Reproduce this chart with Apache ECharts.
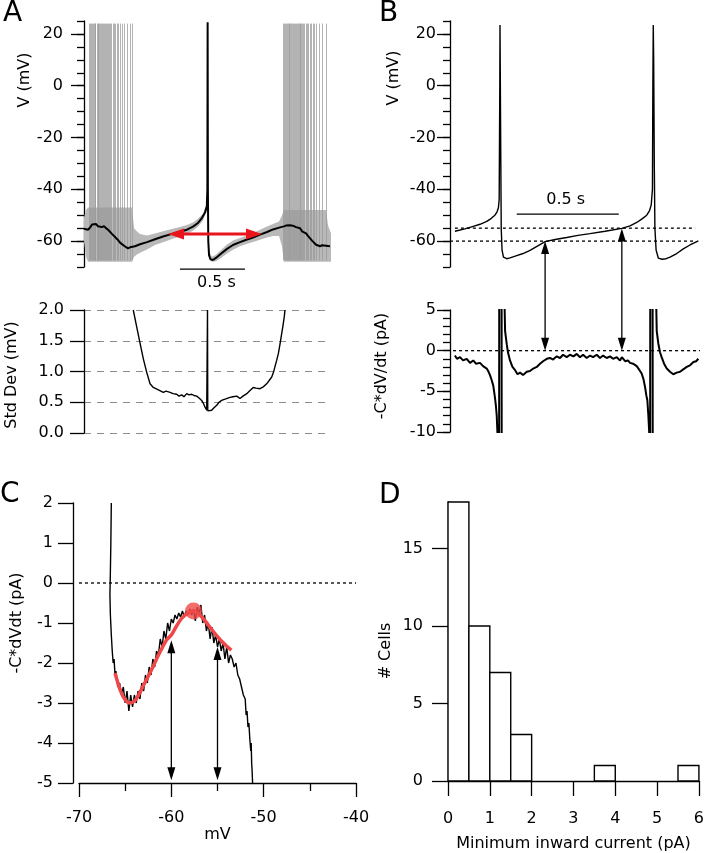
<!DOCTYPE html>
<html><head><meta charset="utf-8">
<script src="https://cdn.jsdelivr.net/npm/echarts@6.0.0/dist/echarts.min.js"></script>
<style>html,body{margin:0;padding:0;background:#fff}#c{width:707px;height:853px}</style>
</head><body><div id="c"></div>
<script>
// ---------- DATA ----------
// Panel A top: spike-triggered mean voltage (t in s relative to spike, V in mV)
const aMean = [[-0.950,-55.2],[-0.935,-55.0],[-0.919,-55.6],[-0.904,-54.8],[-0.888,-53.6],[-0.873,-54.0],[-0.858,-53.4],[-0.842,-54.3],[-0.827,-54.0],[-0.812,-54.6],[-0.796,-54.2],[-0.781,-55.0],[-0.765,-55.6],[-0.750,-56.4],[-0.735,-57.2],[-0.719,-58.0],[-0.704,-58.8],[-0.688,-59.6],[-0.673,-60.6],[-0.658,-61.2],[-0.642,-61.8],[-0.627,-62.4],[-0.612,-62.8],[-0.596,-62.4],[-0.581,-62.6],[-0.558,-62.0],[-0.519,-61.2],[-0.465,-60.4],[-0.404,-59.3],[-0.342,-58.2],[-0.273,-57.2],[-0.212,-56.4],[-0.158,-55.6],[-0.112,-54.4],[-0.073,-53.0],[-0.042,-51.0],[-0.019,-49.0],[-0.005,-46.5],[-0.001,-40],[0.001,24.5],[0.003,-40],[0.006,-60],[0.012,-65.5],[0.023,-67],[0.042,-67.3],[0.065,-66.5],[0.096,-65.2],[0.150,-63],[0.196,-61.5],[0.250,-60.4],[0.304,-59.4],[0.350,-58.6],[0.404,-57.5],[0.458,-56.5],[0.504,-55.5],[0.558,-54.7],[0.588,-54.3],[0.604,-54.0],[0.619,-53.4],[0.635,-53.9],[0.650,-53.2],[0.665,-54.2],[0.681,-54.6],[0.696,-55.2],[0.712,-55.0],[0.727,-56.2],[0.742,-56.6],[0.758,-57.0],[0.773,-58.0],[0.788,-58.6],[0.804,-59.8],[0.819,-60.4],[0.835,-61.4],[0.850,-61.2],[0.865,-62.0],[0.881,-61.6],[0.896,-62.2],[0.912,-61.8],[0.927,-62.0],[0.942,-62.0]];
// gray individual-trace envelopes (t, low, high)
const aBandLeft = [[-0.950,-60,-51],[-0.935,-66,-48],[-0.919,-68,-47],[-0.581,-68,-47],[-0.565,-66,-55],[-0.542,-65.2,-56.3],[-0.519,-64.5,-57.3],[-0.465,-63.2,-57.8],[-0.404,-61.5,-57.1],[-0.342,-60.4,-56.2],[-0.273,-59.2,-55.3],[-0.212,-58.2,-54.6],[-0.158,-57.2,-53.8],[-0.112,-56.0,-52.8],[-0.073,-54.5,-51.4],[-0.035,-52.0,-49.4],[-0.008,-48.5,-45.5]];
const aBandRight = [[0.012,-67,-64],[0.035,-68,-66],[0.065,-67.8,-65.3],[0.096,-66.8,-63.8],[0.150,-64.8,-61.3],[0.196,-63.3,-59.8],[0.250,-62,-58.8],[0.304,-61,-57.8],[0.350,-60.3,-56.9],[0.404,-59.5,-55.6],[0.458,-58.6,-54.4],[0.504,-58,-53.4],[0.550,-58,-52.4],[0.573,-62,-50],[0.588,-68,-48],[0.912,-68,-48],[0.927,-68,-54],[0.950,-68,-57]];
// spike times of the individual gray traces (s)
const aSpikesLeft = [-0.912,-0.905,-0.896,-0.889,-0.881,-0.873,-0.866,-0.860,-0.851,-0.844,-0.838,-0.829,-0.822,-0.815,-0.807,-0.800,-0.792,-0.786,-0.777,-0.769,-0.762,-0.754,-0.746,-0.738,-0.728,-0.719,-0.708,-0.697,-0.686,-0.672,-0.658,-0.640,-0.620,-0.598,-0.578];
const aSpikesRight = [0.581,0.589,0.596,0.603,0.611,0.618,0.625,0.631,0.638,0.646,0.652,0.660,0.667,0.674,0.681,0.688,0.695,0.702,0.710,0.717,0.724,0.732,0.740,0.748,0.757,0.766,0.776,0.787,0.798,0.810,0.823,0.840,0.860,0.885,0.915];
const aSpikeRange = [-67.5, 24];
const aArrow = [[-0.304,-57.3],[0.419,-57.3]];
const aScaleBar = [[-0.212,-70.8],[0.288,-70.8]];
const aTicksMajor = [-60,-40,-20,0,20];
// Panel A bottom: standard deviation (mV)
const aSd = [[-0.571,2.0],[-0.545,1.73],[-0.519,1.46],[-0.494,1.21],[-0.468,0.99],[-0.442,0.80],[-0.417,0.74],[-0.378,0.70],[-0.340,0.66],[-0.319,0.68],[-0.288,0.66],[-0.265,0.64],[-0.237,0.63],[-0.219,0.60],[-0.198,0.62],[-0.181,0.59],[-0.160,0.64],[-0.142,0.62],[-0.122,0.63],[-0.104,0.61],[-0.083,0.60],[-0.065,0.57],[-0.045,0.53],[-0.031,0.48],[-0.019,0.42],[-0.006,0.37],[-0.002,0.36],[0.000,2.0],[0.002,0.36],[0.014,0.34],[0.032,0.37],[0.050,0.41],[0.071,0.45],[0.088,0.50],[0.109,0.53],[0.135,0.55],[0.173,0.58],[0.196,0.59],[0.225,0.60],[0.235,0.58],[0.250,0.56],[0.273,0.60],[0.302,0.64],[0.327,0.69],[0.352,0.74],[0.373,0.73],[0.404,0.72],[0.429,0.75],[0.455,0.80],[0.473,0.85],[0.494,0.91],[0.508,0.99],[0.519,1.08],[0.532,1.18],[0.545,1.29],[0.558,1.45],[0.571,1.62],[0.583,1.78],[0.591,1.9],[0.596,2.0]];
// Panel B top: single voltage trace
const bVolt = [[-0.221,-56.2],[-0.172,-55.3],[-0.131,-54.3],[-0.098,-53.5],[-0.065,-52.4],[-0.044,-51.3],[-0.025,-50.0],[-0.015,-48.8],[-0.008,-47.2],[-0.004,-44],[-0.001,0],[0.000,23.5],[0.001,10],[0.004,-30],[0.006,-55],[0.010,-63.5],[0.017,-66.2],[0.033,-66.8],[0.049,-66.5],[0.082,-65.6],[0.113,-64.8],[0.147,-63.6],[0.181,-62.0],[0.221,-60.2],[0.270,-59.4],[0.327,-58.6],[0.382,-57.8],[0.441,-57.1],[0.515,-56.2],[0.597,-55.1],[0.637,-54.1],[0.670,-52.8],[0.696,-51.4],[0.719,-50.0],[0.733,-48.2],[0.741,-46],[0.747,-40],[0.749,0],[0.751,23.5],[0.753,10],[0.756,-30],[0.759,-55],[0.765,-63.5],[0.776,-66.6],[0.794,-67.0],[0.814,-66.8],[0.833,-66.2],[0.866,-64.8],[0.898,-63.0],[0.931,-61.5],[0.972,-59.9]];
const bLevels = [-55, -60];
const bLevelSpan = [[-0.221,0.956],[-0.245,0.956]];
const bArrowT = [0.221, 0.597];
const bArrowV = [-60, -55.1];
const bScaleBar = [[0.082,-49.6],[0.582,-49.6]];
// Panel B bottom: -C*dV/dt (pA); null = gap
const bCurr = [[-0.221,-0.6],[-0.211,-1.0],[-0.196,-0.8],[-0.181,-1.2],[-0.163,-1.0],[-0.147,-1.5],[-0.131,-1.2],[-0.118,-1.6],[-0.098,-1.5],[-0.083,-1.9],[-0.065,-2.2],[-0.056,-2.6],[-0.049,-3.0],[-0.041,-3.6],[-0.033,-4.3],[-0.025,-5.7],[-0.020,-6.8],[-0.016,-8.0],[-0.012,-10.5],[-0.007,-20],[-0.005,-40],[-0.003,40],[-0.002,null],[0.007,40],[0.009,-40],[0.010,null],[0.017,40],[0.022,6],[0.025,2.4],[0.033,0.8],[0.039,-0.2],[0.049,-1.2],[0.061,-2.0],[0.074,-2.4],[0.086,-2.9],[0.098,-2.7],[0.113,-3.0],[0.131,-2.6],[0.147,-2.5],[0.163,-2.2],[0.180,-2.0],[0.196,-1.6],[0.211,-1.3],[0.229,-1.0],[0.245,-0.9],[0.260,-1.1],[0.278,-0.7],[0.294,-0.9],[0.309,-0.5],[0.327,-0.8],[0.343,-0.5],[0.360,-0.7],[0.376,-0.4],[0.392,-0.8],[0.407,-0.5],[0.425,-0.9],[0.441,-0.6],[0.456,-0.8],[0.474,-0.5],[0.490,-0.9],[0.505,-0.6],[0.523,-0.9],[0.539,-0.7],[0.554,-1.0],[0.572,-0.8],[0.588,-1.2],[0.597,-0.8],[0.613,-1.3],[0.627,-1.2],[0.637,-1.5],[0.652,-1.6],[0.670,-1.9],[0.681,-2.3],[0.694,-2.8],[0.703,-3.5],[0.711,-4.5],[0.717,-5.5],[0.722,-6.1],[0.727,-8.0],[0.732,-10.5],[0.735,-40],[0.737,40],[0.738,null],[0.747,40],[0.749,-40],[0.750,null],[0.762,40],[0.766,5],[0.768,2.4],[0.776,0.85],[0.784,-0.2],[0.792,-0.8],[0.804,-1.6],[0.817,-2.2],[0.833,-2.6],[0.849,-2.9],[0.866,-2.7],[0.882,-2.6],[0.898,-2.3],[0.915,-2.0],[0.931,-1.8],[0.948,-1.4],[0.961,-1.3],[0.972,-1.0]];
const bZeroSpan = [-0.23, 0.98];
// Panel C: I-V relation (mV, pA)
const cTrace = [[-66.5,2.0],[-66.55,1.0],[-66.6,0.3],[-66.65,-0.3],[-66.6,-0.8],[-66.5,-1.3],[-66.4,-1.7],[-66.3,-2.0],[-66.2,-1.9],[-66.1,-2.3],[-66.0,-2.2],[-65.8,-2.6],[-65.6,-2.5],[-65.4,-2.8],[-65.2,-2.6],[-65.0,-3.0],[-64.8,-2.7],[-64.6,-3.2],[-64.4,-2.8],[-64.2,-3.1],[-64.0,-2.8],[-63.8,-3.0],[-63.6,-2.7],[-63.4,-2.9],[-63.2,-2.5],[-63.0,-2.7],[-62.8,-2.3],[-62.6,-2.5],[-62.4,-2.1],[-62.2,-2.3],[-62.0,-1.9],[-61.8,-2.1],[-61.6,-1.7],[-61.4,-1.8],[-61.2,-1.4],[-61.0,-1.6],[-60.8,-1.2],[-60.6,-1.4],[-60.4,-1.0],[-60.2,-1.2],[-60.0,-0.9],[-59.8,-1.0],[-59.6,-0.8],[-59.4,-0.9],[-59.2,-0.75],[-59.0,-0.85],[-58.8,-0.7],[-58.6,-0.85],[-58.4,-0.7],[-58.2,-0.8],[-58.0,-0.65],[-57.8,-0.8],[-57.6,-0.65],[-57.4,-0.95],[-57.2,-0.6],[-57.0,-0.8],[-56.8,-0.55],[-56.6,-1.0],[-56.4,-0.8],[-56.2,-1.2],[-56.0,-1.0],[-55.8,-1.4],[-55.6,-1.1],[-55.4,-1.5],[-55.2,-1.3],[-55.0,-1.6],[-54.8,-1.4],[-54.6,-1.7],[-54.4,-1.5],[-54.2,-1.9],[-54.0,-1.6],[-53.8,-2.0],[-53.6,-1.8],[-53.4,-1.9],[-53.2,-2.1],[-53.0,-2.0],[-52.8,-2.3],[-52.6,-2.4],[-52.4,-2.6],[-52.2,-2.8],[-52.0,-2.9],[-51.9,-3.3],[-51.8,-3.2],[-51.7,-3.6],[-51.6,-3.5],[-51.5,-3.9],[-51.4,-4.2],[-51.35,-4.0],[-51.3,-4.5],[-51.25,-4.7],[-51.2,-5.0]];
const cFit = [[-66.1,-2.25],[-65.5,-2.7],[-65.0,-2.92],[-64.5,-3.0],[-64.0,-2.95],[-63.5,-2.78],[-63.0,-2.55],[-62.5,-2.33],[-62.0,-2.1],[-61.5,-1.85],[-61.0,-1.62],[-60.5,-1.42],[-60.0,-1.3],[-59.5,-1.1],[-59.0,-0.92],[-58.5,-0.8],[-58.0,-0.72],[-57.6,-0.7],[-57.0,-0.78],[-56.5,-0.9],[-56.0,-1.05],[-55.5,-1.2],[-55.0,-1.34],[-54.5,-1.47],[-54.0,-1.58],[-53.5,-1.68]];
const cPeak = [-57.6, -0.7];
const cArrowV = [-60, -55];
const cArrowTop = [-1.43, -1.6];
const cArrowBottom = -4.93;
// Panel D: histogram of minimum inward current
const dBinStart = [0,0.5,1,1.5,2,2.5,3,3.5,4,4.5,5,5.5];
const dBinWidth = 0.5;
const dCounts = [18,10,7,3,0,0,0,1,0,0,0,1];
const dTicks = [0,5,10,15];

// ---------- CHART ----------
const chart = echarts.init(document.getElementById('c'), null, {renderer:'canvas'});
const F = '"DejaVu Sans", sans-serif';
const K = '#000';
const lab = (o) => Object.assign({color:K, fontFamily:F, fontSize:16}, o);
const axLine = {show:true, onZero:false, lineStyle:{color:K, width:1.3}};
const noLine = {show:false, onZero:false};
function hiddenX(grid, min, max){ return {type:'value', gridIndex:grid, min, max, show:false, position:'bottom', axisLine:{onZero:false}}; }

const option = {
  animation:false,
  backgroundColor:'#fff',
  grid:[
    {left:84, top:21, width:247, height:246},
    {left:84, top:310, width:247, height:123},
    {left:450, top:21, width:250, height:246},
    {left:450, top:310, width:250, height:122},
    {left:79, top:503, width:277, height:280},
    {left:448, top:502, width:251, height:280}
  ],
  xAxis:[
    hiddenX(0,-0.95,0.95),
    hiddenX(1,-0.95,0.95),
    hiddenX(2,-0.245,0.98),
    hiddenX(3,-0.245,0.98),
    {type:'value', gridIndex:4, position:'bottom', min:-70, max:-40, interval:10, axisLine:axLine,
      axisTick:{length:14, lineStyle:{color:K,width:1.3}},
      minorTick:{show:true, splitNumber:2, length:8, lineStyle:{color:K,width:1.3}},
      splitLine:{show:false}, axisLabel:lab({margin:27}),
      name:'mV', nameLocation:'middle', nameGap:44, nameTextStyle:lab({})},
    {type:'value', gridIndex:5, position:'bottom', min:0, max:6, interval:1, axisLine:axLine,
      axisTick:{length:15, lineStyle:{color:K,width:1.3}},
      splitLine:{show:false}, axisLabel:lab({margin:30}),
      name:'Minimum inward current (pA)', nameLocation:'middle', nameGap:55, nameTextStyle:lab({})}
  ],
  yAxis:[
    // 0 A top minor
    {type:'value', gridIndex:0, position:'left', min:-70, max:25, interval:5, axisLine:axLine,
      axisTick:{length:7, lineStyle:{color:K,width:1.3}}, axisLabel:{show:false}, splitLine:{show:false}},
    // 1 A top major
    {type:'value', gridIndex:0, position:'left', min:-70, max:25, axisLine:noLine,
      axisTick:{show:true, length:13, customValues:aTicksMajor, lineStyle:{color:K,width:1.3}},
      axisLabel:lab({customValues:aTicksMajor, margin:21}), splitLine:{show:false}},
    // 2 A bottom
    {type:'value', gridIndex:1, position:'left', min:0, max:2, interval:0.5, axisLine:axLine,
      axisTick:{length:14, lineStyle:{color:K,width:1.3}},
      axisLabel:lab({margin:20, formatter:(v)=>v.toFixed(1)}),
      splitLine:{show:true, lineStyle:{color:'#8c8c8c', width:1, type:[7,6]}}},
    // 3 B top minor
    {type:'value', gridIndex:2, position:'left', min:-70, max:25, interval:5, axisLine:axLine,
      axisTick:{length:7, lineStyle:{color:K,width:1.3}}, axisLabel:{show:false}, splitLine:{show:false}},
    // 4 B top major
    {type:'value', gridIndex:2, position:'left', min:-70, max:25, axisLine:noLine,
      axisTick:{show:true, length:13, customValues:aTicksMajor, lineStyle:{color:K,width:1.3}},
      axisLabel:lab({customValues:aTicksMajor, margin:14}), splitLine:{show:false}},
    // 5 B bottom minor
    {type:'value', gridIndex:3, position:'left', min:-10, max:5, interval:1, axisLine:axLine,
      axisTick:{length:7, lineStyle:{color:K,width:1.3}}, axisLabel:{show:false}, splitLine:{show:false}},
    // 6 B bottom major
    {type:'value', gridIndex:3, position:'left', min:-10, max:5, interval:5, axisLine:noLine,
      axisTick:{show:true, length:13, lineStyle:{color:K,width:1.3}},
      axisLabel:lab({margin:14}), splitLine:{show:false}},
    // 7 C
    {type:'value', gridIndex:4, position:'left', min:-5, max:2, interval:1, offset:6, axisLine:axLine,
      axisTick:{length:15, lineStyle:{color:K,width:1.3}},
      axisLabel:lab({margin:20}), splitLine:{show:false}},
    // 8 D
    {type:'value', gridIndex:5, position:'left', min:0, max:18, axisLine:axLine,
      axisTick:{show:true, length:16, customValues:dTicks, lineStyle:{color:K,width:1.3}},
      axisLabel:lab({customValues:dTicks, margin:25}), splitLine:{show:false}}
  ],
  series:[
    // A gray envelopes
    {type:'custom', xAxisIndex:0, yAxisIndex:0, z:1, silent:true,
      data:[[0,0],[1,0]],
      renderItem:(p, api) => {
        const band = p.dataIndex === 0 ? aBandLeft : aBandRight;
        const up = band.map(r => api.coord([r[0], r[2]]));
        const lo = band.slice().reverse().map(r => api.coord([r[0], r[1]]));
        return {type:'polygon', shape:{points:up.concat(lo)}, style:{fill:'#b9b9b9'}};
      }},
    // A gray spikes
    {type:'lines', coordinateSystem:'cartesian2d', xAxisIndex:0, yAxisIndex:0, z:2, silent:true,
      lineStyle:{color:'#9a9a9a', width:1, opacity:0.75},
      data: aSpikesLeft.concat(aSpikesRight).map(t => ({coords:[[t, aSpikeRange[0]],[t, aSpikeRange[1]]]}))},
    // A mean
    {type:'line', xAxisIndex:0, yAxisIndex:0, z:5, showSymbol:false, symbol:'none',
      lineStyle:{color:K, width:2}, data:aMean},
    // A std dev
    {type:'line', xAxisIndex:1, yAxisIndex:2, z:5, symbol:'none',
      lineStyle:{color:K, width:1.4}, data:aSd},
    // B dotted levels
    ...bLevels.map((v,i) => ({type:'line', xAxisIndex:2, yAxisIndex:3, symbol:'none', z:3,
      lineStyle:{color:K, width:1.3, type:[3,3]}, data:[[bLevelSpan[i][0], v],[bLevelSpan[i][1], v]]})),
    // B voltage
    {type:'line', xAxisIndex:2, yAxisIndex:3, z:5, symbol:'none',
      lineStyle:{color:K, width:1.4}, data:bVolt},
    // B zero line
    {type:'line', xAxisIndex:3, yAxisIndex:5, symbol:'none', z:3,
      lineStyle:{color:K, width:1.3, type:[3,3]}, data:[[bZeroSpan[0],0],[bZeroSpan[1],0]]},
    // B current
    {type:'line', xAxisIndex:3, yAxisIndex:5, z:5, symbol:'none', connectNulls:false,
      lineStyle:{color:K, width:2}, data:bCurr.map(r => [r[0], r[1] === null ? '-' : r[1]])},
    // C zero line
    {type:'line', xAxisIndex:4, yAxisIndex:7, symbol:'none', z:3,
      lineStyle:{color:K, width:1.3, type:[3,3]}, data:[[-70,0],[-40,0]]},
    // C trace
    {type:'line', xAxisIndex:4, yAxisIndex:7, z:5, symbol:'none',
      lineStyle:{color:K, width:1.4}, data:cTrace},
    // C fit
    {type:'line', xAxisIndex:4, yAxisIndex:7, z:6, symbol:'none', smooth:0.3,
      lineStyle:{color:'#f04848', width:3.5}, data:cFit},
    // C peak
    {type:'scatter', xAxisIndex:4, yAxisIndex:7, z:7, symbolSize:17,
      itemStyle:{color:'#f04848'}, data:[cPeak]},
    // D histogram
    {type:'custom', xAxisIndex:5, yAxisIndex:8, z:4,
      data: dBinStart.map((s,i) => [s, s + dBinWidth, dCounts[i]]).filter(r => r[2] > 0),
      encode:{x:[0,1], y:2},
      renderItem:(p, api) => {
        const a = api.coord([api.value(0), 0]);
        const b = api.coord([api.value(1), api.value(2)]);
        return {type:'rect', shape:{x:a[0], y:b[1], width:b[0]-a[0], height:a[1]-b[1]},
          style:{fill:'#fff', stroke:K, lineWidth:1.4}};
      }}
  ]
};
chart.setOption(option);

// ---------- annotations positioned through the axes ----------
const P = (xi, yi, pt) => chart.convertToPixel({xAxisIndex:xi, yAxisIndex:yi}, pt);
function head(tip, dx, dy, len, hw, color){
  const bx = tip[0] - dx*len, by = tip[1] - dy*len;
  return {type:'polygon', z:100, shape:{points:[[tip[0],tip[1]],[bx - dy*hw, by + dx*hw],[bx + dy*hw, by - dx*hw]]}, style:{fill:color}};
}
function seg(a, b, color, w){
  return {type:'line', z:99, shape:{x1:a[0], y1:a[1], x2:b[0], y2:b[1]}, style:{stroke:color, lineWidth:w}};
}
function txt(s, x, y, size, rot){
  return {type:'text', z:100, x, y, rotation: rot ? Math.PI/2 : 0,
    style:{text:s, font: size + 'px ' + F, fill:K, align:'center', verticalAlign:'middle'}};
}
const g = [];
// A red double arrow and scale bar
{
  const L = P(0,0,aArrow[0]), R = P(0,0,aArrow[1]);
  g.push(seg([L[0]+12, L[1]], [R[0]-12, R[1]], '#e8151c', 3));
  g.push(head(L, -1, 0, 16, 5.5, '#e8151c'));
  g.push(head(R, 1, 0, 16, 5.5, '#e8151c'));
  const s0 = P(0,0,aScaleBar[0]), s1 = P(0,0,aScaleBar[1]);
  g.push(seg(s0, s1, K, 1.3));
  g.push(txt('0.5 s', (s0[0]+s1[0])/2 + 4, s0[1] + 14, 16));
}
// B scale bar and arrows
{
  const s0 = P(2,3,bScaleBar[0]), s1 = P(2,3,bScaleBar[1]);
  g.push(seg(s0, s1, K, 1.3));
  g.push(txt('0.5 s', (s0[0]+s1[0])/2 - 2, s0[1] - 14, 16));
  bArrowT.forEach((t,i) => {
    const top = P(2,3,[t, bArrowV[i]]), bot = P(3,5,[t, 0]);
    g.push(seg([top[0], top[1]+10], [bot[0], bot[1]-10], K, 1.3));
    g.push(head(top, 0, -1, 13, 4, K));
    g.push(head(bot, 0, 1, 13, 4, K));
  });
}
// C arrows
cArrowV.forEach((v,i) => {
  const top = P(4,7,[v, cArrowTop[i]]), bot = P(4,7,[v, cArrowBottom]);
  g.push(seg([top[0], top[1]+10], [bot[0], bot[1]-10], K, 1.3));
  g.push(head(top, 0, -1, 13, 4, K));
  g.push(head(bot, 0, 1, 13, 4, K));
});
// panel letters
g.push({type:'text', x:3, y:0, z:100, style:{text:'A', font:'28px ' + F, fill:K}});
g.push({type:'text', x:379, y:0, z:100, style:{text:'B', font:'28px ' + F, fill:K}});
g.push({type:'text', x:0, y:481, z:100, style:{text:'C', font:'28px ' + F, fill:K}});
g.push({type:'text', x:379, y:482, z:100, style:{text:'D', font:'28px ' + F, fill:K}});
// axis titles
g.push(txt('V (mV)', 25, 80, 16, true));
g.push(txt('Std Dev (mV)', 12, 375, 16, true));
g.push(txt('V (mV)', 394, 78, 16, true));
g.push(txt('-C*dV/dt (pA)', 382, 366, 16, true));
g.push(txt('-C*dVdt (pA)', 17, 623, 16, true));
g.push(txt('# Cells', 386, 651, 16, true));
chart.setOption({graphic:g});
</script></body></html>
